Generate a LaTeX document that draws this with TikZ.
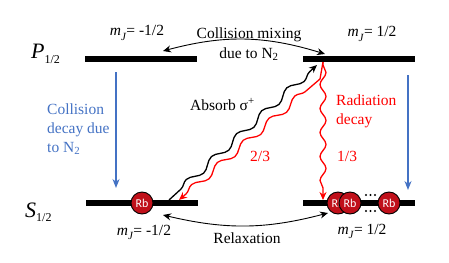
\documentclass[tikz,border=0pt]{standalone}
\usepackage{fontspec}
\setmainfont{Liberation Serif}
\newfontfamily\rbfont{Carlito}
\usetikzlibrary{arrows.meta,decorations.pathmorphing}
\definecolor{lblue}{HTML}{4472C4}
\definecolor{rbred}{HTML}{C0101A}
\newcommand\mJ{\textit{m}\raisebox{-0.3em}{\fontsize{11}{11}\selectfont\textit{J}}}
\newcommand\lvl[2]{{\fontsize{22}{22}\selectfont\textit{#1}}{\fontsize{12}{12}\selectfont\raisebox{-0.35em}{#2}}}
\begin{document}
\begin{tikzpicture}[x=1pt,y=-1pt,
  bar/.style={fill=black, inner sep=0, minimum width=112pt, minimum height=6pt},
  txt/.style={inner sep=0, font=\fontsize{15.5}{19}\selectfont},
  atom/.style={circle, draw=black, line width=0.9pt, fill=rbred, minimum size=22pt, inner sep=0, text=white, font=\rbfont\fontsize{12}{12}\selectfont},
  dotm/.style={circle, fill=black, inner sep=0, minimum size=2.4pt},
  conn/.style={line width=0.9pt, {Stealth[length=8pt,width=7pt]}-{Stealth[length=8pt,width=7pt]}},
  bluearr/.style={lblue, line width=1.4pt, -{Stealth[length=9pt,width=7pt]}},
  wave/.style={line width=1.3pt, decorate, -{Stealth[length=8pt,width=7pt]}},
]
\useasboundingbox (0,0) rectangle (449,262);
% levels
\node[bar] (Pl) at (141,59) {};
\node[bar] (Pr) at (359,59) {};
\node[bar] (Sl) at (142,203) {};
\node[bar] (Sr) at (359,203) {};
% level labels
\node[txt, anchor=base west] (Plab) at (31,59) {\lvl{P}{1/2}};
\node[txt, anchor=base west] (Slab) at (25,217) {\lvl{S}{1/2}};
\node[txt, anchor=base] (mPl) at (137,36) {\mJ= -1/2};
\node[txt, anchor=base] (mPr) at (372,37) {\mJ= 1/2};
\node[txt, anchor=base] (mSl) at (144,235) {\mJ= -1/2};
\node[txt, anchor=base] (mSr) at (362,234) {\mJ= 1/2};
% collision mixing
\node[txt, anchor=base] (cm1) at (249,39) {Collision mixing};
\node[txt, anchor=base] (cm2) at (249,58) {due to N\textsubscript{2}};
\coordinate (cmL) at (163,51);
\coordinate (cmR) at (325,54);
\draw[conn] (cmL) to[bend left=16] (cmR);
% relaxation
\node[txt, anchor=base] (rx) at (247,243) {Relaxation};
\coordinate (rxL) at (163,215);
\coordinate (rxR) at (328,213);
\draw[conn] (rxL) to[bend right=14] (rxR);
% blue collision decay
\coordinate (b1s) at (116,72);
\coordinate (b1e) at (116,188);
\coordinate (b2s) at (408,75);
\coordinate (b2e) at (408,190);
\draw[bluearr] (b1s) -- (b1e);
\draw[bluearr] (b2s) -- (b2e);
\node[txt, anchor=base west, text=lblue] (cd1) at (47,114) {Collision};
\node[txt, anchor=base west, text=lblue] (cd2) at (47,133) {decay due};
\node[txt, anchor=base west, text=lblue] (cd3) at (47,152) {to N\textsubscript{2}};
% absorption
\coordinate (abS) at (169,200);
\coordinate (abE) at (317,65);
\draw[wave, black, decoration={snake, segment length=34pt, amplitude=3.5pt, pre length=16pt, post length=9pt}] (abS) -- (abE);
\node[txt, anchor=base west] (ab) at (190,110) {Absorb σ\textsuperscript{+}};
% radiation decay
\coordinate (rdS) at (323,62);
\coordinate (rdM) at (320,79);
\coordinate (rdE1) at (179,200);
\coordinate (rdE2) at (323,200);
\draw[red, line width=1.3pt, {Stealth[length=8pt,width=7pt]}-, decoration={snake, segment length=34pt, amplitude=3.5pt, pre length=9pt, post length=4pt}] (rdE1) decorate {-- (rdM)} -- (rdS);
\draw[wave, red, decoration={snake, segment length=24pt, amplitude=3pt, pre length=3pt, post length=9pt}] (rdS) -- (rdE2);
\node[txt, anchor=base west, text=red] (rd1) at (336,105) {Radiation};
\node[txt, anchor=base west, text=red] (rd2) at (336,124) {decay};
\node[txt, anchor=base west, text=red] (f23) at (250,161) {2/3};
\node[txt, anchor=base west, text=red] (f13) at (337,161) {1/3};
% atoms
\node[atom] (a0) at (142,203) {Rb};
\node[atom] (a1) at (338,203) {Rb};
\node[atom] (a2) at (350,203) {Rb};
\node[atom] (a3) at (389,203) {Rb};
\foreach \x [count=\i] in {366,370.5,375}{
  \node[dotm] (dt\i) at (\x,195) {};
  \node[dotm] (db\i) at (\x,211) {};
}
\end{tikzpicture}
\end{document}
